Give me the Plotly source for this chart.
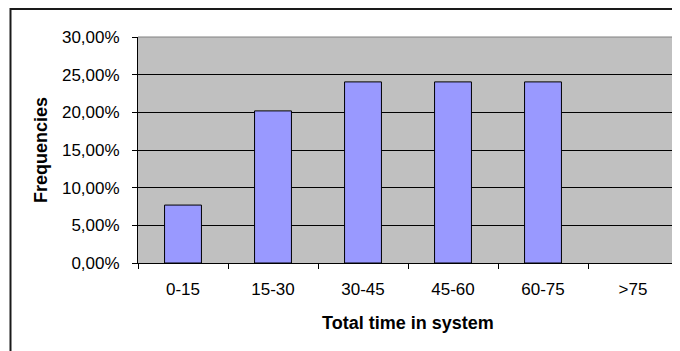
import plotly.graph_objects as go

categories = ["0-15", "15-30", "30-45", "45-60", "60-75", ">75"]
frequencies = [0.0769, 0.2019, 0.2404, 0.2404, 0.2404, 0.0]
y_tick_values = [0.0, 0.05, 0.10, 0.15, 0.20, 0.25, 0.30]
y_tick_labels = ["0,00%", "5,00%", "10,00%", "15,00%", "20,00%", "25,00%", "30,00%"]

# page body has an 8px margin; figure sized to fit the 680x351 window
W, H = 672, 343
L, R, T, B = 130, 2, 29, 88
pw, ph = W - L - R, H - T - B

def px_x(p):
    return (p - L) / pw

def px_y(p):
    return (H - B - p) / ph

tick_font = dict(family="Liberation Sans, Arial, sans-serif", size=17, color="black")
title_font = dict(family="Liberation Sans, Arial, sans-serif", size=18, color="black")

outline_widths = [1 if v > 0 else 0 for v in frequencies]

fig = go.Figure(go.Bar(
    x=categories, y=frequencies,
    marker=dict(color="#9999FF", line=dict(color="black", width=outline_widths)),
))

fig.update_layout(
    width=W, height=H,
    margin=dict(l=L, r=R, t=T, b=B),
    paper_bgcolor="white",
    plot_bgcolor="#C0C0C0",
    bargap=0.59,
    showlegend=False,
    font=tick_font,
    xaxis=dict(
        showgrid=False, showline=True, linecolor="black", linewidth=1,
        ticks="outside", ticklen=5, tickcolor="black",
        tickson="boundaries", tickfont=tick_font, ticklabelstandoff=11,
    ),
    yaxis=dict(
        range=[0, 0.30], tickvals=y_tick_values, ticktext=y_tick_labels,
        showgrid=True, gridcolor="black", gridwidth=1,
        showline=True, linecolor="black", linewidth=1,
        ticks="outside", ticklen=5, tickcolor="black",
        zeroline=False, tickfont=tick_font, ticklabelstandoff=9,
    ),
    shapes=[
        dict(type="line", xref="paper", yref="paper", x0=0, x1=1, y0=1, y1=1,
             line=dict(color="#808080", width=1)),
        dict(type="line", xref="paper", yref="paper", x0=1, x1=1, y0=0, y1=1,
             line=dict(color="#808080", width=1)),
        dict(type="rect", xref="paper", yref="paper",
             x0=px_x(2.5), x1=px_x(700), y0=px_y(400), y1=px_y(1),
             line=dict(color="#1a1a1a", width=2)),
    ],
    annotations=[
        dict(text="<b>Frequencies</b>", xref="paper", yref="paper",
             x=px_x(33), y=0.5, textangle=-90, showarrow=False,
             xanchor="center", yanchor="middle", font=title_font),
        dict(text="<b>Total time in system</b>", xref="paper", yref="paper",
             x=0.5, y=px_y(315), showarrow=False,
             xanchor="center", yanchor="middle", font=title_font),
    ],
)

fig.write_html("out.html")
